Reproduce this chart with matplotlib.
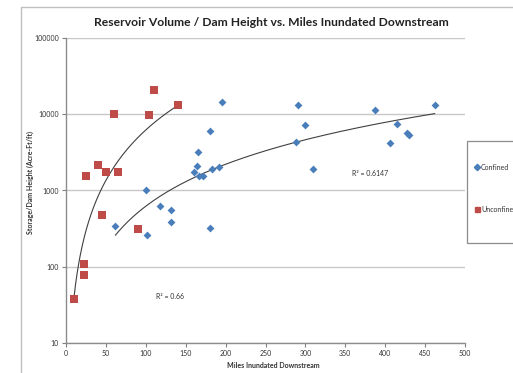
import numpy as np
import matplotlib
matplotlib.use("Agg")
import matplotlib.pyplot as plt
from matplotlib.patches import Rectangle
from matplotlib.lines import Line2D

# ---- data ----
confined_x = [100, 118, 132, 131, 62, 102, 196, 180, 165, 164, 160, 167, 172, 183, 192, 180,
              291, 387, 462, 300, 288, 415, 427, 430, 406, 310]
confined_y = [1000, 625, 555, 385, 342, 260, 14500, 6050, 3200, 2100, 1730, 1550, 1550, 1900, 2040, 318,
              13300, 11400, 13300, 7200, 4350, 7500, 5750, 5300, 4250, 1920]
unconfined_x = [110, 140, 60, 104, 40, 25, 50, 65, 45, 90, 23, 22, 10]
unconfined_y = [21000, 13200, 10200, 9900, 2150, 1550, 1750, 1750, 470, 315, 108, 77, 37]
series_names = ["Confined", "Unconfined"]
r2_labels = ["R² = 0.6147", "R² = 0.66"]
x_ticks = [0, 50, 100, 150, 200, 250, 300, 350, 400, 450, 500]
y_ticks = [10, 100, 1000, 10000, 100000]

blue = "#4A7EBB"
red = "#BE4B48"
W, H = 513, 373
plt.rcParams['font.family'] = ['Lato', 'DejaVu Sans']

fig = plt.figure(figsize=(W / 100, H / 100), dpi=100)
fig.patch.set_facecolor("white")

def fx(px):
    return px / W

def fy(py):
    return 1 - py / H

# chart area frame
fig.add_artist(Rectangle((fx(21), fy(380)), fx(600), (380 - 7) / H, transform=fig.transFigure,
                         fill=False, edgecolor="#BFBFBF", linewidth=1.0, clip_on=False))

ax = fig.add_axes([fx(66), fy(342.7), fx(465 - 66), (342.7 - 38.3) / H])
ax.set_yscale("log")
ax.set_xlim(0, 500)
ax.set_ylim(10, 100000)
ax.set_xticks(x_ticks)
ax.set_xticklabels([str(t) for t in x_ticks])
ax.set_yticks(y_ticks)
ax.set_yticklabels([str(t) for t in y_ticks])
ax.minorticks_off()
ax.tick_params(axis="both", labelsize=5, length=3, width=0.8, color="#808080", pad=2, labelcolor="#333333")
for s in ["top", "right"]:
    ax.spines[s].set_visible(False)
for s in ["left", "bottom"]:
    ax.spines[s].set_color("#8C8C8C")
    ax.spines[s].set_linewidth(1.0)
ax.yaxis.grid(True, color="#C8C8C8", linewidth=1.0)
ax.set_axisbelow(True)

# trendlines (power fits)
def power_fit(x, y):
    x = np.array(x, float); y = np.array(y, float)
    b, loga = np.polyfit(np.log(x), np.log(y), 1)
    xx = np.linspace(x.min(), x.max(), 200)
    return xx, np.exp(loga) * xx ** b

for xs, ys in [(confined_x, confined_y), (unconfined_x, unconfined_y)]:
    xx, yy = power_fit(xs, ys)
    ax.plot(xx, yy, color="#404040", linewidth=0.8, zorder=2)

ax.scatter(confined_x, confined_y, marker="D", s=16, color=blue, linewidths=0, zorder=3)
ax.scatter(unconfined_x, unconfined_y, marker="s", s=26, color=red, linewidths=0, zorder=3)

ax.text(359, 10 ** (5 - (173.3 - 38.3) / 76.1), r2_labels[0], fontsize=5, color="#333333", va="center")
ax.text(113, 10 ** (5 - (296.7 - 38.3) / 76.1), r2_labels[1], fontsize=5, color="#333333", va="center")

fig.text(fx(271), fy(22.5), "Reservoir Volume / Dam Height vs. Miles Inundated Downstream",
         ha="center", va="center", fontsize=8.7, fontweight="bold", color="#222222")
fig.text(fx(273), fy(365.5), "Miles Inundated Downstream", ha="center", va="center",
         fontsize=5, fontweight="bold", color="#333333")
fig.text(fx(30), fy(182), "Storage/Dam Height (Acre-Ft/ft)", ha="center", va="center",
         rotation=90, fontsize=5, fontweight="bold", color="#333333")

# legend (box runs past the right edge, as in the reference)
fig.add_artist(Rectangle((fx(467), fy(243)), fx(80), (243 - 141) / H, transform=fig.transFigure,
                         fill=True, facecolor="white", edgecolor="#8C8C8C", linewidth=0.9, clip_on=False))
fig.add_artist(Line2D([fx(477)], [fy(167)], marker="D", markersize=3.2, color=blue, linestyle="none",
                      transform=fig.transFigure))
fig.add_artist(Line2D([fx(477)], [fy(209)], marker="s", markersize=3.6, color=red, linestyle="none",
                      transform=fig.transFigure))
fig.text(fx(481), fy(167), series_names[0], fontsize=5, va="center", color="#333333")
fig.text(fx(481), fy(209), series_names[1], fontsize=5, va="center", color="#333333")

fig.savefig("out.png", dpi=100, facecolor="white")
